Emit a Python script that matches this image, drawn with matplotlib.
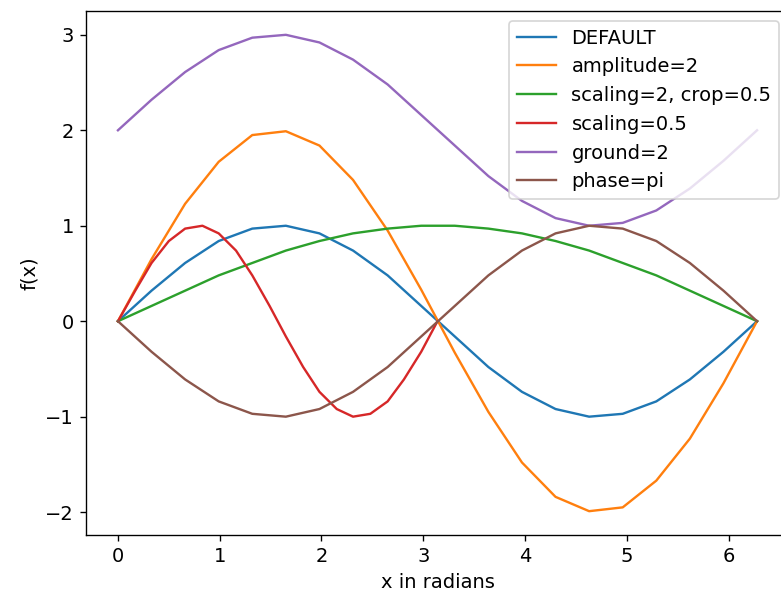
import matplotlib
matplotlib.use("Agg")
import matplotlib.pyplot as plt

# sample points
x = [0.00, 0.33, 0.66, 0.99, 1.32, 1.65, 1.98, 2.31, 2.65, 2.98,
     3.31, 3.64, 3.97, 4.30, 4.63, 4.96, 5.29, 5.62, 5.95, 6.28]
x_half = [0.00, 0.17, 0.33, 0.50, 0.66, 0.83, 0.99, 1.16, 1.32, 1.49,
          1.65, 1.82, 1.98, 2.15, 2.31, 2.48, 2.65, 2.81, 2.98, 3.14]

default = [0.00, 0.32, 0.61, 0.84, 0.97, 1.00, 0.92, 0.74, 0.48, 0.16,
           -0.16, -0.48, -0.74, -0.92, -1.00, -0.97, -0.84, -0.61, -0.32, 0.00]
amplitude2 = [0.00, 0.65, 1.23, 1.67, 1.95, 1.99, 1.84, 1.48, 0.95, 0.33,
              -0.33, -0.95, -1.48, -1.84, -1.99, -1.95, -1.67, -1.23, -0.65, 0.00]
scaling2_crop = [0.00, 0.16, 0.32, 0.48, 0.61, 0.74, 0.84, 0.92, 0.97, 1.00,
                 1.00, 0.97, 0.92, 0.84, 0.74, 0.61, 0.48, 0.32, 0.16, 0.00]
scaling_half = [0.00, 0.32, 0.61, 0.84, 0.97, 1.00, 0.92, 0.74, 0.48, 0.16,
                -0.16, -0.48, -0.74, -0.92, -1.00, -0.97, -0.84, -0.61, -0.32, 0.00]
ground2 = [2.00, 2.32, 2.61, 2.84, 2.97, 3.00, 2.92, 2.74, 2.48, 2.16,
           1.84, 1.52, 1.26, 1.08, 1.00, 1.03, 1.16, 1.39, 1.68, 2.00]
phase_pi = [0.00, -0.32, -0.61, -0.84, -0.97, -1.00, -0.92, -0.74, -0.48, -0.16,
            0.16, 0.48, 0.74, 0.92, 1.00, 0.97, 0.84, 0.61, 0.32, 0.00]

plt.rcParams["font.size"] = 11.5
plt.rcParams["lines.linewidth"] = 1.4

dpi = 122
fig = plt.figure(figsize=(781 / dpi, 596 / dpi), dpi=dpi)
ax = fig.add_axes([86 / 781, 61 / 596, 703 / 781, 524 / 596])

ax.plot(x, default, label="DEFAULT")
ax.plot(x, amplitude2, label="amplitude=2")
ax.plot(x, scaling2_crop, label="scaling=2, crop=0.5")
ax.plot(x_half, scaling_half, label="scaling=0.5")
ax.plot(x, ground2, label="ground=2")
ax.plot(x, phase_pi, label="phase=pi")

ax.set_xlabel("x in radians")
ax.set_ylabel("f(x)")
ax.legend(loc="upper right")

fig.savefig("out.png", dpi=dpi)
